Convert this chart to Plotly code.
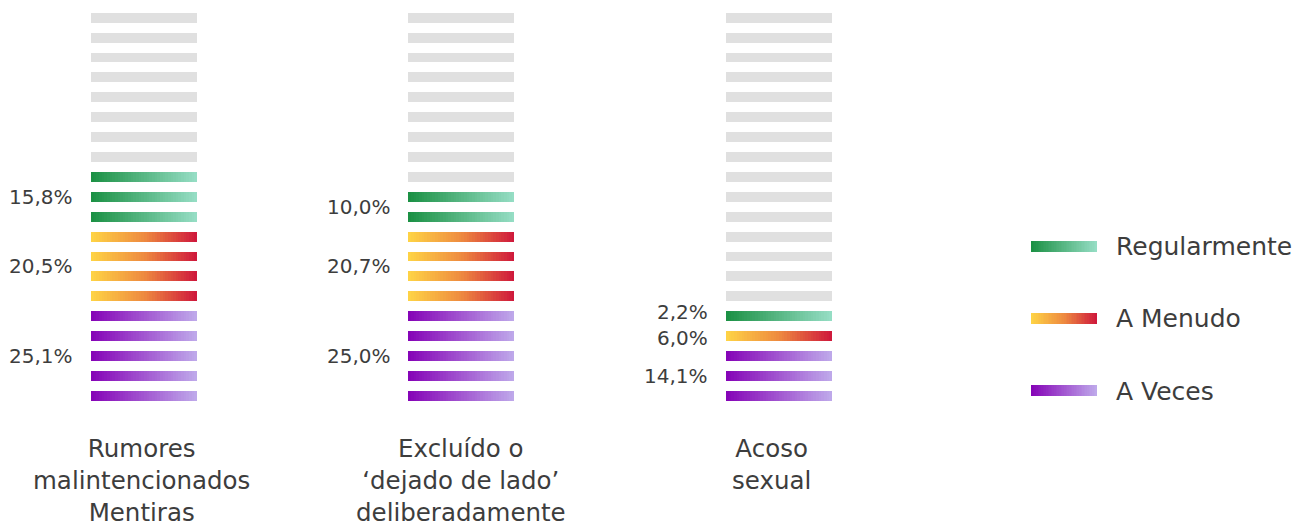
import plotly.graph_objects as go

# ---------------- data ----------------
categories = [
    "Rumores<br>malintencionados<br>Mentiras",
    "Excluído o<br>‘dejado de lado’<br>deliberadamente",
    "Acoso<br>sexual",
]
series = ["Regularmente", "A Menudo", "A Veces"]
pct_regularmente = [15.8, 10.0, 2.2]
pct_a_menudo = [20.5, 20.7, 6.0]
pct_a_veces = [25.1, 25.0, 14.1]
bars_regularmente = [3, 2, 1]
bars_a_menudo = [4, 4, 1]
bars_a_veces = [5, 5, 3]
total_bars = 20

# ---------------- style ----------------
GRAY = "#e0e0e0"
gradients = {
    "Regularmente": ["#1c9145", "#95ddc4"],
    "A Menudo": ["#fed245", "#ee8a40", "#cf1a3c"],
    "A Veces": ["#8605b7", "#bea8ea"],
}
TEXT = "#3d3d3d"
FONT = "DejaVu Sans"
N_SEG = 40
COL_STEP = 2.995
BAR_THICK = 0.5
W, H = 1299, 527
label_yshift = {("Regularmente", 2): 4, ("A Menudo", 2): -2}
cat_xshift = [-3, 0, -7]


def hex_rgb(h):
    h = h.lstrip("#")
    return [int(h[i:i + 2], 16) for i in (0, 2, 4)]


def interp(stops, t):
    cols = [hex_rgb(s) for s in stops]
    n = len(cols) - 1
    pos = t * n
    i = min(int(pos), n - 1)
    f = pos - i
    a, b = cols[i], cols[i + 1]
    return "rgb(%d,%d,%d)" % tuple(round(a[j] + (b[j] - a[j]) * f) for j in range(3))


def fmt(v):
    return ("%.1f" % v).replace(".", ",") + "%"


counts = {
    "Regularmente": bars_regularmente,
    "A Menudo": bars_a_menudo,
    "A Veces": bars_a_veces,
}
pcts = {
    "Regularmente": pct_regularmente,
    "A Menudo": pct_a_menudo,
    "A Veces": pct_a_veces,
}

col_left = [i * COL_STEP for i in range(len(categories))]

# slot assignment (0 = top, total_bars-1 = bottom), stacked from the bottom
slots = {s: [] for s in series}
gray_slots = []
for c in range(len(categories)):
    end = total_bars
    for s in reversed(series):
        n = counts[s][c]
        slots[s].append(list(range(end - n, end)))
        end -= n
    gray_slots.append(list(range(0, end)))

fig = go.Figure()

# gray background bars
gy, gb = [], []
for c, sl in enumerate(gray_slots):
    for y in sl:
        gy.append(y)
        gb.append(col_left[c])
fig.add_trace(go.Bar(
    orientation="h", y=gy, x=[1] * len(gy), base=gb, width=BAR_THICK,
    marker=dict(color=GRAY, line=dict(width=0)), hoverinfo="skip", showlegend=False,
))

# gradient bars
for s in series:
    ys, bases = [], []
    for c in range(len(categories)):
        for y in slots[s][c]:
            ys.append(y)
            bases.append(col_left[c])
    for k in range(N_SEG):
        seg_w = (1.0 / N_SEG) * (1.6 if k < N_SEG - 1 else 1.0)
        fig.add_trace(go.Bar(
            orientation="h", y=ys, x=[seg_w] * len(ys),
            base=[b + k / N_SEG for b in bases], width=BAR_THICK,
            marker=dict(color=interp(gradients[s], k / (N_SEG - 1)), line=dict(width=0)),
            hoverinfo="skip", showlegend=False,
        ))

# legend as a mini bar chart
for s in series:
    for k in range(N_SEG):
        seg_w = (1.0 / N_SEG) * (1.6 if k < N_SEG - 1 else 1.0)
        fig.add_trace(go.Bar(
            orientation="h", y=[s], x=[seg_w], base=[k / N_SEG], width=0.153,
            marker=dict(color=interp(gradients[s], k / (N_SEG - 1)), line=dict(width=0)),
            hoverinfo="skip", showlegend=False, xaxis="x2", yaxis="y2",
        ))

annotations = []
# percentage labels
for s in series:
    for c in range(len(categories)):
        sl = slots[s][c]
        if not sl:
            continue
        yc = sum(sl) / len(sl)
        annotations.append(dict(
            x=col_left[c] - 0.15, y=yc, xref="x", yref="y", text=fmt(pcts[s][c]),
            showarrow=False, xanchor="right", yanchor="middle",
            yshift=label_yshift.get((s, c), 0),
            font=dict(family=FONT, size=20, color=TEXT),
        ))
# category labels
for c, cat in enumerate(categories):
    annotations.append(dict(
        x=col_left[c] + 0.5, y=20.8, xref="x", yref="y", text=cat,
        showarrow=False, xanchor="center", yanchor="top", align="center",
        xshift=cat_xshift[c],
        font=dict(family=FONT, size=24.5, color=TEXT),
    ))

px_per_unit_x = 106.0
x0 = -91.0 / px_per_unit_x
x1 = (W - 91.0) / px_per_unit_x
px_per_slot = 19.9
y_top = -17.7 / px_per_slot
y_bot = (H - 17.7) / px_per_slot

fig.update_layout(
    width=W, height=H,
    margin=dict(l=0, r=0, t=0, b=0),
    paper_bgcolor="white", plot_bgcolor="white",
    barmode="overlay", bargap=0,
    showlegend=False,
    xaxis=dict(range=[x0, x1], visible=False, fixedrange=True, domain=[0, 1]),
    yaxis=dict(range=[y_bot, y_top], visible=False, fixedrange=True, domain=[0, 1]),
    xaxis2=dict(range=[0, 1], visible=False, fixedrange=True,
                domain=[1031 / W, 1097 / W], anchor="y2"),
    yaxis2=dict(type="category", categoryorder="array", categoryarray=series,
                range=[2.5, -0.5], anchor="x2", side="right",
                domain=[1 - 427.0 / H, 1 - 210.0 / H],
                showgrid=False, zeroline=False, showline=False, ticks="",
                ticklabelstandoff=18, fixedrange=True,
                tickfont=dict(family=FONT, size=25, color=TEXT)),
    annotations=annotations,
    font=dict(family=FONT, color=TEXT),
)

fig.write_html(
    "out.html",
    config={"displayModeBar": False},
    post_script="document.body.style.margin='0';document.body.style.overflow='hidden';",
)
